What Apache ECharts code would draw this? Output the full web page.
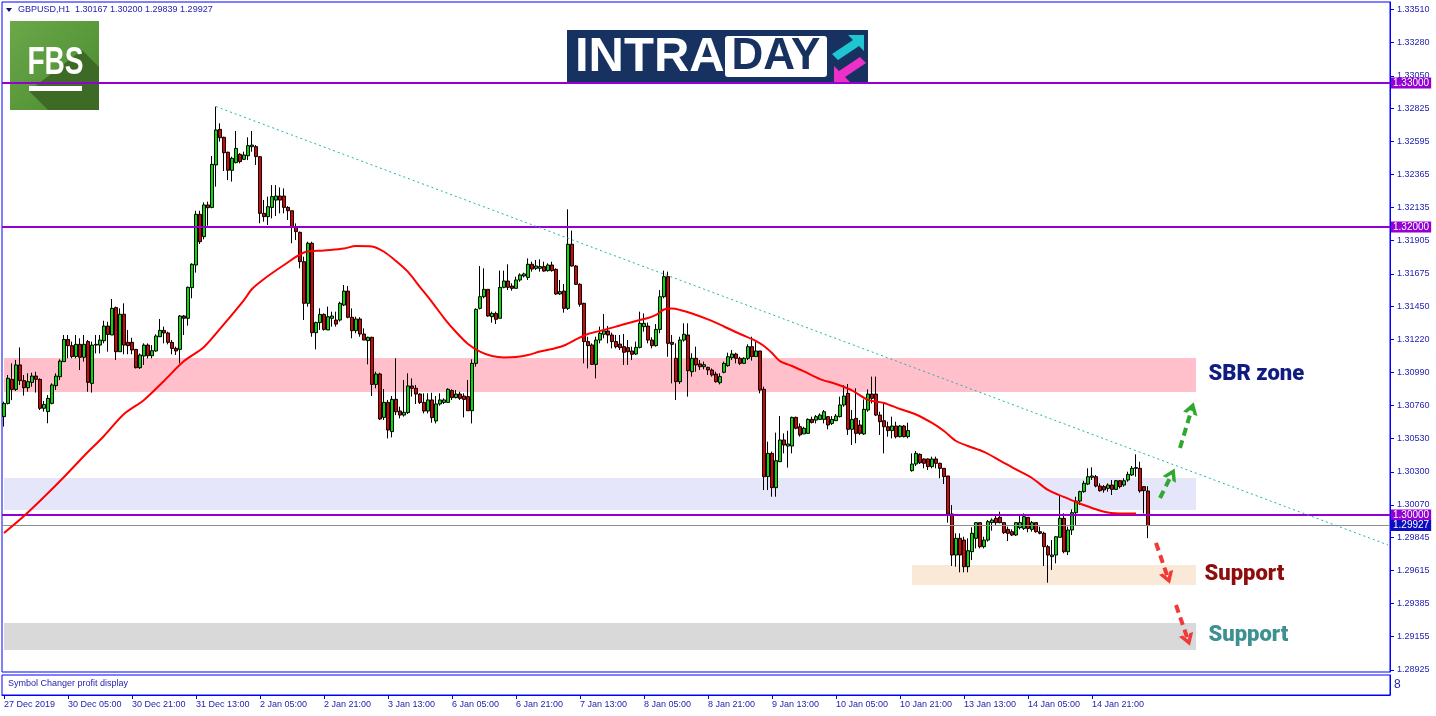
<!DOCTYPE html>
<html><head><meta charset="utf-8">
<script src="https://cdn.jsdelivr.net/npm/echarts@6.0.0/dist/echarts.min.js"></script>
<style>html,body{margin:0;padding:0;background:#fff;}#c{width:1436px;height:716px;}</style>
</head><body><div id="c"></div>
<script>
// ---------------- DATA (GBPUSD H1) ----------------
const opens = [
1.30683,1.30775,1.30942,1.30872,1.31042,1.30933,1.30884,1.30921,1.30965,1.30942,
1.30741,1.30718,1.30775,1.30898,1.30960,1.31065,1.31219,1.31176,1.31100,1.31185,
1.31095,1.31204,1.30914,1.31180,1.31180,1.31210,1.31312,1.31250,1.31440,1.31134,
1.31394,1.31199,1.31199,1.31150,1.31023,1.31104,1.31180,1.31106,1.31139,1.31238,
1.31282,1.31264,1.31199,1.31157,1.31150,1.31382,1.31366,1.31579,1.31736,1.32088,
1.31933,1.32153,1.32136,1.32431,1.32678,1.32623,1.32519,1.32394,1.32447,1.32505,
1.32470,1.32495,1.32558,1.32558,1.32488,1.32095,1.32072,1.32136,1.32187,1.32215,
1.32215,1.32136,1.32113,1.31998,1.31963,1.31759,1.31470,1.31887,1.31266,1.31336,
1.31393,1.31285,1.31366,1.31354,1.31354,1.31458,1.31555,1.31373,1.31280,1.31361,
1.31257,1.31211,1.31234,1.30907,1.30979,1.30678,1.30782,1.30579,1.30803,1.30722,
1.30694,1.30711,1.30896,1.30880,1.30840,1.30782,1.30722,1.30799,1.30653,1.30771,
1.30782,1.30782,1.30864,1.30815,1.30840,1.30826,1.30822,1.30724,1.31053,1.31435,
1.31516,1.31567,1.31377,1.31400,1.31366,1.31581,1.31625,1.31590,1.31574,1.31632,
1.31660,1.31650,1.31741,1.31713,1.31713,1.31725,1.31697,1.31736,1.31706,1.31535,
1.31555,1.31435,1.31880,1.31729,1.31602,1.31470,1.31204,1.31181,1.31046,1.31215,
1.31255,1.31278,1.31250,1.31204,1.31187,1.31169,1.31162,1.31139,1.31118,1.31164,
1.31308,1.31312,1.31215,1.31176,1.31289,1.31516,1.31655,1.31199,1.31088,1.30926,
1.31215,1.31250,1.30995,1.31088,1.31049,1.31030,1.31025,1.31007,1.30979,1.30919,
1.30991,1.31037,1.31092,1.31118,1.31088,1.31053,1.31088,1.31169,1.31099,1.31139,
1.30873,1.30266,1.30428,1.30190,1.30370,1.30521,1.30479,1.30479,1.30678,1.30613,
1.30563,1.30567,1.30664,1.30659,1.30664,1.30664,1.30683,1.30636,1.30655,1.30683,
1.30764,1.30845,1.30595,1.30671,1.30625,1.30563,1.30729,1.30840,1.30840,1.30694,
1.30655,1.30613,1.30586,1.30618,1.30544,1.30618,1.30544,1.30308,1.30354,1.30421,
1.30389,1.30389,1.30336,1.30389,1.30359,1.30324,1.30271,1.30007,1.29722,1.29838,
1.29826,1.29641,1.29745,1.29838,1.29947,1.29780,1.29826,1.29947,1.29977,1.29984,
1.29947,1.29900,1.29884,1.29861,1.29912,1.29907,1.29984,1.29900,1.29947,1.29884,
1.29873,1.29780,1.29711,1.29722,1.29845,1.29977,1.29745,1.29896,1.30016,1.30097,
1.30162,1.30215,1.30262,1.30266,1.30201,1.30197,1.30185,1.30208,1.30178,1.30238,
1.30208,1.30243,1.30278,1.30324,1.30324,1.30197,1.30167];
const highs = [
1.30787,1.30972,1.31053,1.31077,1.31164,1.30972,1.30984,1.30988,1.30995,1.30949,
1.30792,1.30833,1.30914,1.30984,1.31081,1.31250,1.31250,1.31204,1.31250,1.31227,
1.31250,1.31215,1.31204,1.31250,1.31250,1.31349,1.31342,1.31500,1.31447,1.31435,
1.31470,1.31285,1.31231,1.31153,1.31122,1.31192,1.31192,1.31180,1.31255,1.31361,
1.31308,1.31273,1.31215,1.31169,1.31389,1.31389,1.31586,1.31748,1.32113,1.32113,
1.32171,1.32176,1.32493,1.32836,1.32720,1.32627,1.32523,1.32488,1.32667,1.32512,
1.32523,1.32623,1.32667,1.32569,1.32493,1.32188,1.32211,1.32291,1.32291,1.32275,
1.32268,1.32145,1.32113,1.32025,1.31968,1.31794,1.31898,1.31898,1.31343,1.31435,
1.31400,1.31447,1.31412,1.31412,1.31481,1.31597,1.31590,1.31435,1.31377,1.31373,
1.31296,1.31238,1.31238,1.30995,1.30988,1.30875,1.30799,1.30826,1.31088,1.30752,
1.30937,1.30984,1.30949,1.30903,1.30845,1.30845,1.30845,1.30849,1.30826,1.30845,
1.30810,1.30880,1.30873,1.30868,1.30856,1.30845,1.30937,1.31081,1.31435,1.31729,
1.31713,1.31567,1.31412,1.31412,1.31697,1.31697,1.31741,1.31609,1.31655,1.31678,
1.31683,1.31782,1.31759,1.31771,1.31775,1.31759,1.31748,1.31759,1.31713,1.31632,
1.31604,1.32123,1.31975,1.31736,1.31609,1.31474,1.31238,1.31192,1.31238,1.31308,
1.31396,1.31312,1.31266,1.31250,1.31250,1.31257,1.31215,1.31169,1.31204,1.31412,
1.31400,1.31336,1.31234,1.31326,1.31562,1.31697,1.31690,1.31250,1.31192,1.31238,
1.31331,1.31331,1.31123,1.31169,1.31076,1.31065,1.31030,1.31018,1.30995,1.30984,
1.31065,1.31127,1.31146,1.31127,1.31099,1.31095,1.31185,1.31238,1.31204,1.31139,
1.30891,1.30509,1.30440,1.30572,1.30687,1.30567,1.30585,1.30683,1.30683,1.30636,
1.30613,1.30671,1.30683,1.30694,1.30706,1.30729,1.30687,1.30687,1.30701,1.30822,
1.30902,1.30910,1.30729,1.30880,1.30659,1.30803,1.30873,1.30961,1.30961,1.30717,
1.30775,1.30648,1.30683,1.30648,1.30625,1.30625,1.30641,1.30428,1.30444,1.30428,
1.30393,1.30393,1.30405,1.30405,1.30363,1.30324,1.30271,1.30069,1.29873,1.29873,
1.29849,1.29838,1.29914,1.29947,1.29947,1.29849,1.29965,1.29977,1.30000,1.30023,
1.29947,1.29919,1.29900,1.29947,1.29993,1.30011,1.29984,1.29958,1.29947,1.29919,
1.29884,1.29792,1.29826,1.29854,1.30132,1.30011,1.29919,1.30039,1.30127,1.30169,
1.30238,1.30324,1.30331,1.30278,1.30220,1.30208,1.30220,1.30243,1.30243,1.30243,
1.30255,1.30301,1.30340,1.30421,1.30370,1.30201,1.30200];
const lows = [
1.30614,1.30768,1.30798,1.30861,1.30903,1.30829,1.30856,1.30891,1.30850,1.30729,
1.30718,1.30637,1.30768,1.30868,1.30937,1.31065,1.31088,1.31088,1.31088,1.31007,
1.31065,1.30856,1.30850,1.31122,1.31122,1.31192,1.31134,1.31250,1.31076,1.31134,
1.31116,1.31116,1.31116,1.31018,1.31014,1.31042,1.31088,1.31088,1.31134,1.31238,
1.31192,1.31185,1.31116,1.31111,1.31053,1.31250,1.31315,1.31505,1.31683,1.31882,
1.31914,1.32009,1.32130,1.32280,1.32593,1.32389,1.32326,1.32315,1.32442,1.32442,
1.32465,1.32465,1.32523,1.32431,1.32026,1.32037,1.32014,1.32060,1.32076,1.32095,
1.32095,1.32049,1.31887,1.31910,1.31713,1.31354,1.31447,1.31238,1.31150,1.31285,
1.31280,1.31285,1.31308,1.31308,1.31343,1.31451,1.31366,1.31227,1.31262,1.31238,
1.31215,1.31046,1.30826,1.30880,1.30660,1.30660,1.30532,1.30539,1.30694,1.30671,
1.30683,1.30701,1.30822,1.30771,1.30771,1.30706,1.30706,1.30641,1.30636,1.30759,
1.30771,1.30780,1.30799,1.30810,1.30799,1.30678,1.30724,1.30636,1.31030,1.31428,
1.31505,1.31377,1.31336,1.31326,1.31366,1.31574,1.31562,1.31558,1.31574,1.31620,
1.31650,1.31632,1.31690,1.31701,1.31690,1.31690,1.31690,1.31690,1.31528,1.31528,
1.31405,1.31424,1.31725,1.31597,1.31447,1.31053,1.31018,1.31042,1.30949,1.31192,
1.31227,1.31192,1.31157,1.31157,1.31146,1.31042,1.31042,1.31076,1.31111,1.31157,
1.31273,1.31192,1.31157,1.31169,1.31262,1.31505,1.31099,1.30914,1.30799,1.30910,
1.31204,1.30822,1.30961,1.30995,1.31007,1.31011,1.30972,1.30961,1.30919,1.30907,
1.30984,1.31030,1.31076,1.31053,1.31042,1.31049,1.31076,1.31072,1.31099,1.30845,
1.30173,1.30173,1.30127,1.30127,1.30370,1.30428,1.30329,1.30428,1.30595,1.30544,
1.30563,1.30563,1.30636,1.30636,1.30659,1.30636,1.30595,1.30625,1.30655,1.30678,
1.30752,1.30556,1.30486,1.30498,1.30556,1.30556,1.30717,1.30775,1.30687,1.30556,
1.30428,1.30544,1.30532,1.30532,1.30539,1.30539,1.30532,1.30301,1.30340,1.30354,
1.30324,1.30312,1.30324,1.30324,1.30255,1.30215,1.29947,1.29646,1.29641,1.29602,
1.29602,1.29602,1.29687,1.29768,1.29768,1.29768,1.29815,1.29891,1.29930,1.29942,
1.29868,1.29819,1.29854,1.29854,1.29900,1.29896,1.29880,1.29884,1.29877,1.29866,
1.29646,1.29530,1.29618,1.29664,1.29845,1.29734,1.29722,1.29861,1.29930,1.30069,
1.30155,1.30208,1.30243,1.30192,1.30162,1.30155,1.30162,1.30139,1.30174,1.30185,
1.30197,1.30231,1.30271,1.30266,1.30155,1.30011,1.29839];
const closes = [
1.30775,1.30949,1.30872,1.31042,1.30933,1.30884,1.30926,1.30965,1.30942,1.30741,
1.30768,1.30810,1.30903,1.30965,1.31069,1.31219,1.31176,1.31100,1.31185,1.31095,
1.31185,1.30921,1.31180,1.31185,1.31215,1.31312,1.31254,1.31435,1.31134,1.31394,
1.31180,1.31176,1.31146,1.31023,1.31111,1.31180,1.31106,1.31141,1.31243,1.31282,
1.31264,1.31199,1.31157,1.31139,1.31382,1.31366,1.31581,1.31741,1.32088,1.31898,
1.32153,1.32134,1.32435,1.32674,1.32620,1.32516,1.32394,1.32477,1.32546,1.32454,
1.32500,1.32565,1.32569,1.32489,1.32095,1.32072,1.32141,1.32211,1.32215,1.32187,
1.32136,1.32113,1.31998,1.31968,1.31759,1.31470,1.31887,1.31266,1.31336,1.31393,
1.31289,1.31377,1.31382,1.31326,1.31470,1.31555,1.31373,1.31280,1.31361,1.31257,
1.31215,1.31234,1.30907,1.30979,1.30667,1.30782,1.30590,1.30803,1.30717,1.30694,
1.30713,1.30896,1.30880,1.30840,1.30782,1.30722,1.30799,1.30676,1.30771,1.30799,
1.30799,1.30873,1.30815,1.30840,1.30810,1.30803,1.30724,1.31053,1.31428,1.31516,
1.31567,1.31382,1.31400,1.31359,1.31581,1.31625,1.31581,1.31574,1.31632,1.31667,
1.31674,1.31741,1.31708,1.31729,1.31725,1.31694,1.31736,1.31697,1.31535,1.31551,
1.31435,1.31880,1.31729,1.31602,1.31463,1.31204,1.31176,1.31046,1.31215,1.31262,
1.31278,1.31250,1.31204,1.31169,1.31162,1.31130,1.31134,1.31116,1.31164,1.31331,
1.31331,1.31215,1.31176,1.31289,1.31516,1.31655,1.31192,1.31185,1.30926,1.31215,
1.31255,1.31002,1.31088,1.31042,1.31030,1.31044,1.31007,1.30972,1.30926,1.30961,
1.31053,1.31099,1.31118,1.31088,1.31053,1.31088,1.31169,1.31099,1.31139,1.30868,
1.30266,1.30428,1.30190,1.30377,1.30521,1.30486,1.30493,1.30678,1.30602,1.30556,
1.30602,1.30664,1.30643,1.30683,1.30694,1.30717,1.30625,1.30664,1.30687,1.30764,
1.30826,1.30595,1.30664,1.30567,1.30567,1.30734,1.30840,1.30810,1.30694,1.30648,
1.30613,1.30586,1.30618,1.30544,1.30618,1.30544,1.30586,1.30354,1.30428,1.30363,
1.30359,1.30336,1.30389,1.30359,1.30324,1.30266,1.30007,1.29722,1.29838,1.29722,
1.29641,1.29752,1.29873,1.29947,1.29780,1.29826,1.29954,1.29965,1.29947,1.29947,
1.29877,1.29873,1.29861,1.29947,1.29947,1.29988,1.29907,1.29947,1.29884,1.29873,
1.29780,1.29722,1.29722,1.29849,1.29977,1.29745,1.29896,1.30016,1.30097,1.30162,
1.30220,1.30266,1.30271,1.30201,1.30169,1.30174,1.30208,1.30178,1.30238,1.30197,
1.30238,1.30282,1.30324,1.30329,1.30167,1.30169,1.29927];

// moving average (bar index -> value)
const maIndex = [0,5,10,15,20,25,30,35,40,45,50,55,60,62,65,70,75,80,85,88,92,95,98,101,104,107,110,113,116,119,122,125,128,131,134,137,140,143,146,150,154,158,161,163,165,167,169,172,176,180,184,188,190,192,194,197,200,204,208,212,216,220,224,228,232,235,238,241,245,249,253,257,261,265,268,272,276,280,283];
const maValues = [1.29875,1.29993,1.30125,1.30264,1.30410,1.30549,1.30701,1.30799,1.30931,1.31069,1.31167,1.31326,1.31493,1.31569,1.31639,1.31736,1.31823,1.31837,1.31851,1.31868,1.31865,1.31828,1.31764,1.31688,1.31583,1.31479,1.31368,1.31271,1.31188,1.31135,1.31104,1.31094,1.31097,1.31111,1.31135,1.31153,1.31177,1.31219,1.31257,1.31285,1.31316,1.31347,1.31368,1.31389,1.31427,1.31434,1.31424,1.31399,1.31358,1.31309,1.31257,1.31208,1.31174,1.31125,1.31069,1.31035,1.30997,1.30944,1.30910,1.30865,1.30799,1.30778,1.30736,1.30698,1.30639,1.30583,1.30514,1.30479,1.30438,1.30378,1.30316,1.30257,1.30174,1.30125,1.30090,1.30049,1.30017,1.30010,1.30010];

const yTicks = [1.33510,1.33280,1.33050,1.32825,1.32595,1.32365,1.32135,1.31905,1.31675,1.31450,1.31220,1.30990,1.30760,1.30530,1.30300,1.30070,1.29845,1.29615,1.29385,1.29155,1.28925];
const xTickLabels = ['27 Dec 2019','30 Dec 05:00','30 Dec 21:00','31 Dec 13:00','2 Jan 05:00','2 Jan 21:00','3 Jan 13:00','6 Jan 05:00','6 Jan 21:00','7 Jan 13:00','8 Jan 05:00','8 Jan 21:00','9 Jan 13:00','10 Jan 05:00','10 Jan 21:00','13 Jan 13:00','14 Jan 05:00','14 Jan 21:00'];

const levelPrices = [1.33000, 1.32000, 1.30000];
const bidPrice = 1.29927;
const trendStart = [53, 1.32836];
const trendEnd = [346, 1.29792];
// zones: [fromBar, toBar, top, bottom]
const zoneSBR = [0, 298, 1.31090, 1.30854];
const zoneLav = [0, 298, 1.30257, 1.30035];
const zoneSup1 = [227, 298, 1.29653, 1.29514];
const zoneSup2 = [0, 298, 1.29250, 1.29063];
// arrows: [[bar, price],[bar, price]]
const arrowsUp = [[[289,1.30118],[292,1.30285]], [[294,1.30465],[297,1.30743]]];
const arrowsDown = [[[288,1.29806],[291,1.29562]], [[293,1.29375],[296,1.29132]]];
const notes = [
  {text:'SBR zone', at:[301,1.30979], color:'#101c80'},
  {text:'Support', at:[300,1.29590], color:'#8e0c0c'},
  {text:'Support', at:[301,1.29160], color:'#3c9090'}
];

// ---------------- categories (hourly bars, no weekends / 1 Jan) ----------------
const MON = ['Jan','Feb','Mar','Apr','May','Jun','Jul','Aug','Sep','Oct','Nov','Dec'];
const SLOTS = 347;
const cats = [];
let t = Date.UTC(2019, 11, 27, 13);
while (cats.length < SLOTS) {
  const d = new Date(t);
  const wd = d.getUTCDay();
  const hol = d.getUTCMonth() === 0 && d.getUTCDate() === 1;
  if (wd !== 0 && wd !== 6 && !hol) {
    cats.push(d.getUTCDate() + ' ' + MON[d.getUTCMonth()] + ' ' + String(d.getUTCHours()).padStart(2,'0') + ':00');
  }
  t += 3600000;
}
const lastTick = (xTickLabels.length - 1) * 16;
const tickFn = (idx) => idx % 16 === 0 && idx <= lastTick;

const candleData = opens.map((o, i) => [o, closes[i], lows[i], highs[i]]);
const maData = maIndex.map((ix, k) => [ix, maValues[k]]);

const AX = '#2323b0';
const FONT = '"Liberation Sans", Arial, sans-serif';
const chevron = 'path://M0,10 L5,0 L10,10 L7.3,10 L5,5.4 L2.7,10 Z';

function zoneArea(z, color) {
  return [{coord: [z[0], z[2]], itemStyle: {color}}, {coord: [z[1], z[3]]}];
}
function arrowLines(list, color) {
  return list.map(a => [{coord: a[0], lineStyle: {color}}, {coord: a[1]}]);
}
function levelLabel(bg) {
  return {show: true, position: 'end', distance: 1, formatter: p => Number(p.value).toFixed(5),
    color: '#fff', backgroundColor: bg, padding: [1, 2, 0, 2], lineHeight: 10, fontSize: 10, fontFamily: FONT};
}

const header = 'GBPUSD,H1  ' + [opens, highs, lows, closes].map(a => a[a.length - 1].toFixed(5)).join(' ');

const chart = echarts.init(document.getElementById('c'), null, {renderer: 'canvas'});
chart.setOption({
  animation: false,
  backgroundColor: '#ffffff',
  grid: [
    {left: 2, top: 2, width: 1388, height: 670, show: true, borderColor: '#0000ff', borderWidth: 1, backgroundColor: '#fff'},
    {left: 2, top: 675, width: 1388, height: 20, show: true, borderColor: '#0000ff', borderWidth: 1}
  ],
  xAxis: [
    {gridIndex: 0, type: 'category', data: cats, boundaryGap: true, show: false},
    {gridIndex: 1, type: 'category', data: cats, boundaryGap: true,
      axisLine: {show: true, lineStyle: {color: '#0000ff', width: 1}},
      axisTick: {show: true, length: 4, interval: tickFn, alignWithLabel: true, lineStyle: {color: '#0000ff'}},
      axisLabel: {interval: tickFn, formatter: (v, idx) => xTickLabels[idx / 16] || '', color: AX,
        fontSize: 9, fontFamily: FONT, align: 'left', margin: 5},
      splitLine: {show: false}}
  ],
  yAxis: [
    {gridIndex: 0, type: 'value', position: 'right', min: 1.289097, max: 1.335625,
      splitLine: {show: false},
      axisLine: {show: true, lineStyle: {color: '#0000ff', width: 1}},
      axisTick: {show: true, length: 4, customValues: yTicks, lineStyle: {color: '#0000ff'}},
      axisLabel: {customValues: yTicks, formatter: v => v.toFixed(5), color: AX, fontSize: 9, fontFamily: FONT, margin: 7}},
    {gridIndex: 1, type: 'value', position: 'right', min: 0, max: 1,
      splitLine: {show: false}, axisLine: {show: true, lineStyle: {color: '#0000ff'}},
      axisTick: {show: false}, axisLabel: {show: false}}
  ],
  series: [
    {type: 'line', name: 'zones', xAxisIndex: 0, yAxisIndex: 0, data: [], z: 1, silent: true,
      markArea: {silent: true, data: [
        zoneArea(zoneSBR, '#ffc0cb'), zoneArea(zoneLav, '#e6e6fa'),
        zoneArea(zoneSup1, '#fbe9d7'), zoneArea(zoneSup2, '#d9d9d9')]}},
    {type: 'line', name: 'levels', xAxisIndex: 0, yAxisIndex: 0, data: [], z: 3, silent: true,
      markLine: {silent: true, precision: 5, symbol: ['none', 'none'], animation: false, data: [
        ...levelPrices.map(v => ({yAxis: v, lineStyle: {color: '#9400d3', width: 2, type: 'solid'}, label: levelLabel('#9400d3')})),
        {yAxis: bidPrice, lineStyle: {color: '#8c8c8c', width: 1, type: 'solid'}, label: levelLabel('#0c0cc0')},
        [{coord: trendStart, lineStyle: {color: '#20b2aa', width: 1, type: [2, 3]}, label: {show: false}}, {coord: trendEnd}]
      ]}},
    {type: 'candlestick', name: 'GBPUSD', xAxisIndex: 0, yAxisIndex: 0, data: candleData, z: 4, barWidth: 3,
      itemStyle: {color: '#00e000', color0: '#e00000', borderColor: '#000', borderColor0: '#000', borderColorDoji: '#000', borderWidth: 1}},
    {type: 'line', name: 'MA', xAxisIndex: 0, yAxisIndex: 0, data: maData, z: 5, showSymbol: false, smooth: 0.3,
      lineStyle: {color: '#ff0000', width: 2}, silent: true},
    {type: 'line', name: 'notes', xAxisIndex: 0, yAxisIndex: 0, data: [], z: 6, silent: true,
      markLine: {silent: true, precision: 5, symbol: ['none', chevron], symbolSize: [15, 12], label: {show: false},
        lineStyle: {type: [8, 5], width: 4, cap: 'butt'},
        data: [...arrowLines(arrowsUp, '#2ea82e'), ...arrowLines(arrowsDown, '#f03a3a')]},
      markPoint: {silent: true, symbol: 'circle', symbolSize: 1, itemStyle: {color: 'rgba(0,0,0,0)'},
        data: notes.map(n => ({coord: n.at, label: {show: true, position: 'right', distance: 0, formatter: n.text,
          color: n.color, fontSize: 22, fontWeight: 900, fontFamily: 'Roboto, "Liberation Sans", sans-serif'}}))}}
  ],
  graphic: [
    {type: 'polygon', shape: {points: [[6, 8], [12, 8], [9, 12]]}, style: {fill: '#101070'}, z: 20},
    {type: 'text', x: 18, y: 10, style: {text: header, fill: AX, font: '9px ' + FONT, textVerticalAlign: 'middle', verticalAlign: 'middle'}, z: 20},
    {type: 'text', x: 8, y: 684, style: {text: 'Symbol Changer profit display', fill: AX, font: '9px ' + FONT, textVerticalAlign: 'middle', verticalAlign: 'middle'}, z: 20},
    {type: 'text', x: 1394, y: 685, style: {text: '8', fill: AX, font: '12px ' + FONT, textVerticalAlign: 'middle', verticalAlign: 'middle'}, z: 20},
    // FBS logo
    {type: 'group', z: 20, children: [
      {type: 'rect', shape: {x: 10, y: 21, width: 89, height: 89},
        style: {fill: {type: 'linear', x: 0, y: 0, x2: 1, y2: 1, colorStops: [{offset: 0, color: '#6aa84a'}, {offset: 1, color: '#4a8a2e'}]}}},
      {type: 'polygon', shape: {points: [[82, 50], [99, 67], [99, 110], [48, 110], [29, 91]]}, style: {fill: '#3d6b25'}},
      {type: 'text', x: 55.5, y: 64, scaleX: 0.74, style: {text: 'FBS', fill: '#fff', font: 'bold 38px ' + FONT,
        textAlign: 'center', align: 'center', textVerticalAlign: 'middle', verticalAlign: 'middle'}},
      {type: 'rect', shape: {x: 29, y: 86, width: 53, height: 5}, style: {fill: '#fff'}}
    ]},
    // INTRADAY banner
    {type: 'group', z: 20, children: [
      {type: 'rect', shape: {x: 567, y: 30, width: 301, height: 53}, style: {fill: '#173260'}},
      {type: 'text', x: 575, y: 57, style: {text: 'INTRA', fill: '#fff', font: 'bold 49px ' + FONT,
        textVerticalAlign: 'middle', verticalAlign: 'middle'}},
      {type: 'rect', shape: {x: 725, y: 36, width: 102, height: 41, r: 3}, style: {fill: '#fff'}},
      {type: 'text', x: 776, y: 57, style: {text: 'DAY', fill: '#173260', font: 'bold 44px ' + FONT,
        textAlign: 'center', align: 'center', textVerticalAlign: 'middle', verticalAlign: 'middle'}},
      {type: 'polygon', shape: {points: [[848, 35], [864, 35], [864, 51], [859, 46], [838, 60], [832, 54], [853, 40]]}, style: {fill: '#1fc6d2'}},
      {type: 'polygon', shape: {points: [[834, 66], [834, 82], [850, 82], [845, 77], [866, 63], [860, 57], [839, 71]]}, style: {fill: '#ee2fc9'}}
    ]}
  ]
});
</script>
</body></html>
